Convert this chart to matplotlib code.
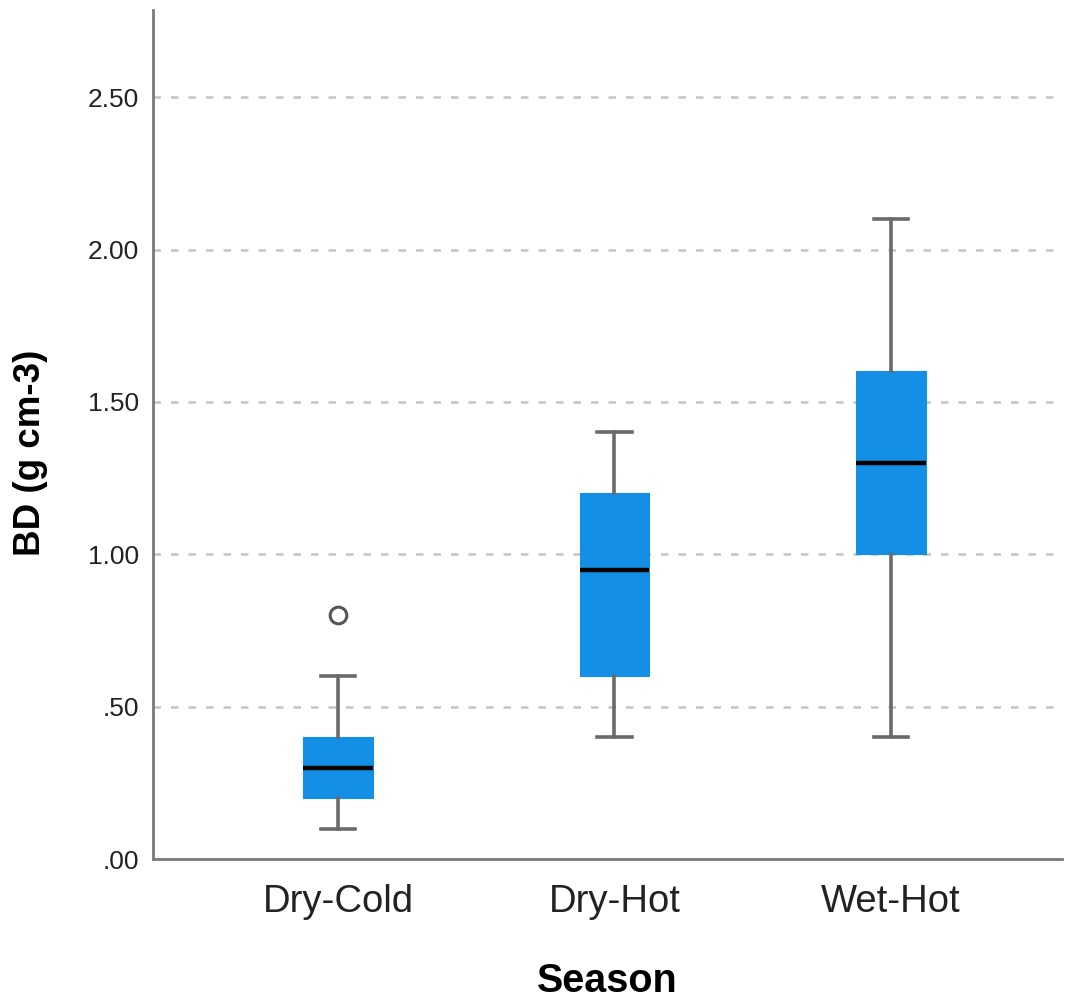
import matplotlib
matplotlib.use("Agg")
import matplotlib.pyplot as plt

plt.rcParams['font.family'] = ['Liberation Sans', 'DejaVu Sans']

# Bulk density by season: five-number summaries plus outliers
seasons = ["Dry-Cold", "Dry-Hot", "Wet-Hot"]
whisker_low = [0.10, 0.40, 0.40]
q1 = [0.20, 0.60, 1.00]
median = [0.30, 0.95, 1.30]
q3 = [0.40, 1.20, 1.60]
whisker_high = [0.60, 1.40, 2.10]
outliers = [[0.80], [], []]

y_ticks = [0.0, 0.5, 1.0, 1.5, 2.0, 2.5]
y_tick_labels = [".00", ".50", "1.00", "1.50", "2.00", "2.50"]

stats = []
for i, name in enumerate(seasons):
    stats.append(dict(label=name, whislo=whisker_low[i], q1=q1[i], med=median[i],
                      q3=q3[i], whishi=whisker_high[i], fliers=outliers[i]))

fig = plt.figure(figsize=(10.67, 9.99), dpi=100)
ax = fig.add_axes([0.1434, 0.140, 0.852, 0.850])

ax.bxp(stats, positions=range(len(seasons)), widths=0.25, patch_artist=True,
       showfliers=True,
       boxprops=dict(facecolor="#138fe5", edgecolor="#138fe5", linewidth=0.8),
       medianprops=dict(color="#000000", linewidth=3.2),
       whiskerprops=dict(color="#6a6a6a", linewidth=2.6),
       capprops=dict(color="#6a6a6a", linewidth=2.6),
       capwidths=0.125,
       flierprops=dict(marker="o", markersize=12, markerfacecolor="white",
                       markeredgecolor="#555555", markeredgewidth=2.2),
       zorder=3)

ax.set_xlim(-0.669, 2.619)
ax.set_ylim(0, 2.786)
ax.set_yticks(y_ticks)
ax.set_yticklabels(y_tick_labels, fontsize=19, color="#222222")
ax.set_xticks(range(len(seasons)))
ax.set_xticklabels(seasons, fontsize=27.5, color="#222222")
ax.tick_params(axis="y", length=0, pad=10)
ax.tick_params(axis="x", length=0, pad=18)

for y in y_ticks[1:]:
    ax.axhline(y, color="#c4c4c4", linestyle=(0, (3, 4)), linewidth=1.8, zorder=1)

for side in ("top", "right"):
    ax.spines[side].set_visible(False)
for side in ("left", "bottom"):
    ax.spines[side].set_color("#7a7a7a")
    ax.spines[side].set_linewidth(2)

ax.set_xlabel("Season", fontsize=28.5, fontweight="bold", labelpad=30)
ax.set_ylabel("BD (g cm-3)", fontsize=26.5, fontweight="bold", labelpad=30)
ax.yaxis.set_label_coords(-0.115, 0.478)

fig.savefig("out.png", dpi=100, facecolor="white")
